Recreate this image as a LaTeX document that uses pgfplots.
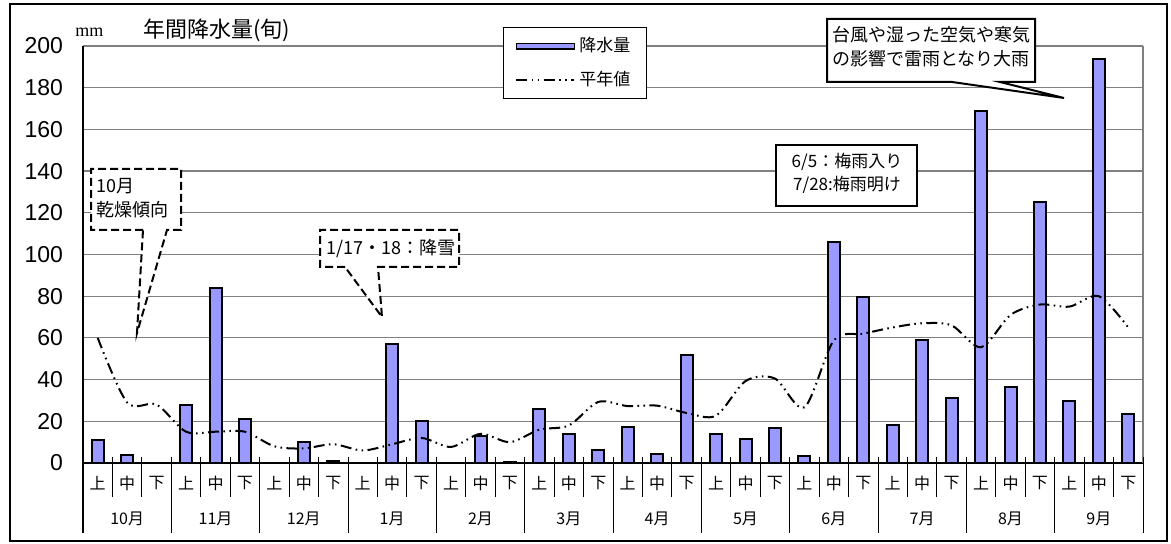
\documentclass[border=0pt]{standalone}
\usepackage{fontspec}
\usepackage{pgfplots}
\pgfplotsset{compat=1.18}
\setmainfont{Noto Sans CJK JP}
\newfontfamily\arial{Liberation Sans}
\newfontfamily\tms{Liberation Serif}
\definecolor{barblue}{HTML}{9999FF}
\definecolor{gridgray}{HTML}{808080}
\tikzset{normalline/.style={black, line width=1pt, dash pattern=on 5.5pt off 2.2pt on 0.8pt off 2.2pt on 0.8pt off 2.2pt}}
\begin{document}
\begin{tikzpicture}
\begin{axis}[
  at={(0,0)}, anchor=south west, scale only axis,
  width=530pt, height=208.5pt,
  xmin=-0.5, xmax=35.5, ymin=0, ymax=200,
  axis x line*=bottom, axis y line*=left,
  axis line style={black, line width=0.7pt},
  ytick={0,20,...,200},
  ymajorgrids, grid style={gridgray, line width=0.6pt},
  xtick={0,...,35},
  xticklabels={上,中,下,上,中,下,上,中,下,上,中,下,上,中,下,上,中,下,上,中,下,上,中,下,上,中,下,上,中,下,上,中,下,上,中,下},
  major tick length=0pt,
  /pgf/number format/assume math mode=true,
  yticklabel style={font=\arial\fontsize{11.5}{13}\selectfont, xshift=-6.5pt},
  xticklabel style={font=\fontsize{8}{9}\selectfont, anchor=center, yshift=-10pt},
  clip=false,
  legend style={at={(0.396,1.0456)}, anchor=north west, draw=black, line width=0.6pt, fill=white,
    font=\fontsize{8.5}{10}\selectfont, cells={anchor=west}, row sep=4pt, inner xsep=6pt, inner ysep=3pt},
]
\addplot[ybar, bar width=6pt, bar shift=0pt, fill=barblue, draw=black, line width=1pt,
  legend image code/.code={\draw[fill=barblue, draw=black, line width=0.8pt] (0pt,-1.3pt) rectangle (29pt,1.3pt);}]
  coordinates {
  (0,11) (1,4)
  (3,28) (4,84) (5,21)
  (7,10) (8,1)
  (10,57) (11,20)
  (13,13) (14,0.5)
  (15,26) (16,14) (17,6)
  (18,17.5) (19,4.5) (20,52)
  (21,14) (22,11.5) (23,17)
  (24,3.5) (25,106) (26,79.5)
  (27,18) (28,59) (29,31)
  (30,169) (31,36.5) (32,125)
  (33,29.5) (34,194) (35,23.5)
  };
\addlegendentry{降水量}
\addplot[normalline, smooth, no marks,
  legend image code/.code={\draw[normalline] (0pt,0pt) -- (29pt,0pt);}]
  coordinates {
  (0,60) (1,29) (2,28)
  (3,15) (4,15) (5,15)
  (6,8) (7,7) (8,9)
  (9,6) (10,9) (11,12)
  (12,7.7) (13,14) (14,10)
  (15,16) (16,18) (17,29.3)
  (18,27.3) (19,27.5) (20,24)
  (21,22.7) (22,39.3) (23,40.5)
  (24,26.7) (25,58.8) (26,62)
  (27,65) (28,67) (29,66)
  (30,55.5) (31,71) (32,76)
  (33,75) (34,80) (35,65)
  };
\addlegendentry{平年値}
\end{axis}
\begin{scope}[x=0.5pt,y=-0.5pt,shift={(-41.5pt,231.5pt)}]
  % outer frame
  \draw[line width=0.6pt] (10,4) rectangle (1167,541);
  % right plot border
  \draw[gridgray, line width=0.6pt] (1143,46) -- (1143,463);
  % table separators
  \draw[black, line width=0.7pt] (83,463) -- (83,533);
  \foreach \i in {1,...,35} \draw[black, line width=0.5pt] ({83+29.444*\i},457) -- ({83+29.444*\i},497);
  \foreach \i in {3,6,...,36} \draw[black, line width=0.5pt] ({83+29.444*\i},457) -- ({83+29.444*\i},533);
  \foreach \m [count=\k from 0] in {10月,11月,12月,1月,2月,3月,4月,5月,6月,7月,8月,9月}
    \node[font=\fontsize{8}{9}\selectfont, inner sep=0] at ({83+29.444*(3*\k+1.5)},519) {\m};
  % titles
  \node[anchor=base west, inner sep=0, font=\tms\fontsize{9}{10}\selectfont] at (75,37) {mm};
  \node[anchor=west, inner sep=0, font=\fontsize{11}{13}\selectfont] at (143,30) {年間降水量(旬)};
  % callout: typhoon
  \draw[fill=white, line width=1pt] (952,82) -- (827,82) -- (827,19) -- (1035,19) -- (1035,82) -- (1000,82) -- (1064,98) -- cycle;
  \node[font=\fontsize{9}{11}\selectfont, inner sep=0] at (931,35) {台風や湿った空気や寒気};
  \node[font=\fontsize{9}{11}\selectfont, inner sep=0] at (931,59) {の影響で雷雨となり大雨};
  % callout: rainy season
  \draw[fill=white, line width=1pt] (776,145) rectangle (917,206);
  \node[font=\fontsize{8.5}{10}\selectfont, inner sep=0] at (847,162) {6/5：梅雨入り};
  \node[font=\fontsize{8.5}{10}\selectfont, inner sep=0] at (847,185) {7/28:梅雨明け};
  % callout: October dry
  \draw[fill=white, line width=1pt, dash pattern=on 4pt off 2pt] (143,230) -- (91,230) -- (91,169) -- (181,169) -- (181,230) -- (167,230) -- (137,333) -- cycle;
  \node[anchor=west, font=\fontsize{9}{11}\selectfont, inner sep=0] at (96,186) {10月};
  \node[anchor=west, font=\fontsize{9}{11}\selectfont, inner sep=0] at (96,210) {乾燥傾向};
  % callout: snow
  \draw[fill=white, line width=1pt, dash pattern=on 4pt off 2pt] (345,267) -- (320,267) -- (320,230) -- (459,230) -- (459,267) -- (378,267) -- (382,317) -- cycle;
  \node[anchor=west, font=\fontsize{9}{11}\selectfont, inner sep=0] at (326,249) {1/17・18：降雪};
  \pgfresetboundingbox
  \path[use as bounding box] (0,0) rectangle (1171,544);
\end{scope}
\end{tikzpicture}
\end{document}
